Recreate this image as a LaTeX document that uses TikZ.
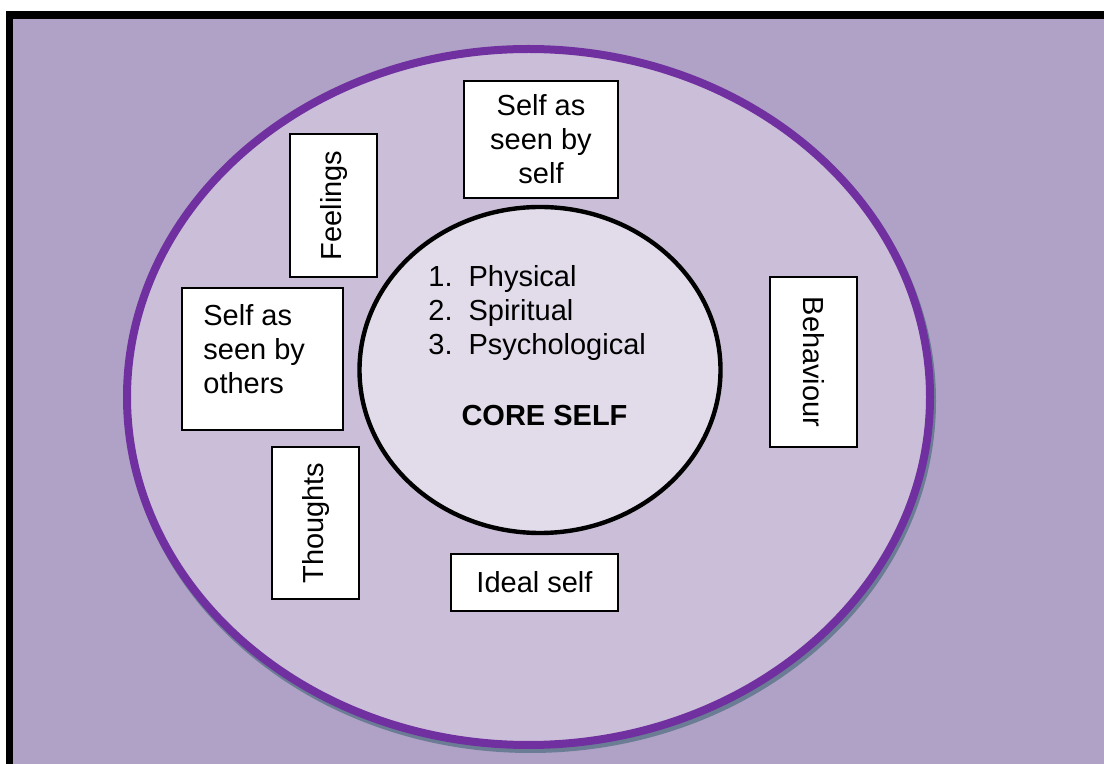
\documentclass[tikz,border=0pt]{standalone}
\usepackage{fontspec}
\setmainfont{Liberation Sans}
\usetikzlibrary{shapes.geometric}

\definecolor{bgpurple}{HTML}{B0A1C6}
\definecolor{ringfill}{HTML}{CBBED8}
\definecolor{corefill}{HTML}{E2DCEA}
\definecolor{ringline}{HTML}{7030A0}
\definecolor{shadowgrey}{HTML}{6A7D94}

\tikzset{
  txt/.style={inner sep=0pt, font=\fontsize{14.5}{17}\selectfont},
  box/.style={txt, draw=black, line width=0.75pt, fill=white},
  ring/.style={ellipse, inner sep=0pt, minimum width=401.5pt, minimum height=348pt,
    fill=ringfill, draw=ringline, line width=4pt},
  core/.style={ellipse, inner sep=0pt, minimum width=180.5pt, minimum height=163pt,
    fill=corefill, draw=black, line width=2.2pt}
}

\begin{document}
\begin{tikzpicture}[x=0.5pt, y=-0.5pt]
            \useasboundingbox (0,0) rectangle (1104,764);
            \fill[white] (0,0) rectangle (1104,764);
            \fill[black] (6,11) rectangle (1104,764);
            \fill[bgpurple] (13,19) rectangle (1104,764);
            \node[ring, fill=shadowgrey, draw=shadowgrey] (shadow) at (530.5,401) {};
            \node[ring] (outer) at (528.5,397) {};
            \node[core] (core) at (540,370) {};
            \node[txt, anchor=west] (list) at (428,314) {\begin{tabular}{@{}l@{\hspace{8pt}}l@{}}1. & Physical\\2. & Spiritual\\3. & Psychological\end{tabular}};
            \node[txt, font=\fontsize{14.5}{17}\selectfont\bfseries] (title) at (544.5,416) {CORE SELF};
            \node[box, align=center, minimum width=77pt, minimum height=58.5pt] (byself) at (541,139.5) {Self as\\seen by\\self};
            \node[box, rotate=90, minimum width=71.5pt, minimum height=43.5pt] (feelings) at (333.5,205.5) {Feelings};
            \node[box, minimum width=80.5pt, minimum height=71pt] (byothers) at (262.5,359) {};
            \node[txt, anchor=north west, align=left] (byotherstxt) at (203,304) {Self as\\seen by\\others};
            \node[box, rotate=90, minimum width=76pt, minimum height=43.5pt] (thoughts) at (315.5,523) {Thoughts};
            \node[box, rotate=-90, minimum width=85pt, minimum height=43.5pt] (behaviour) at (813.5,362) {Behaviour};
            \node[box, minimum width=83.5pt, minimum height=28.5pt] (ideal) at (534.5,582.5) {Ideal self};
\end{tikzpicture}
\end{document}
